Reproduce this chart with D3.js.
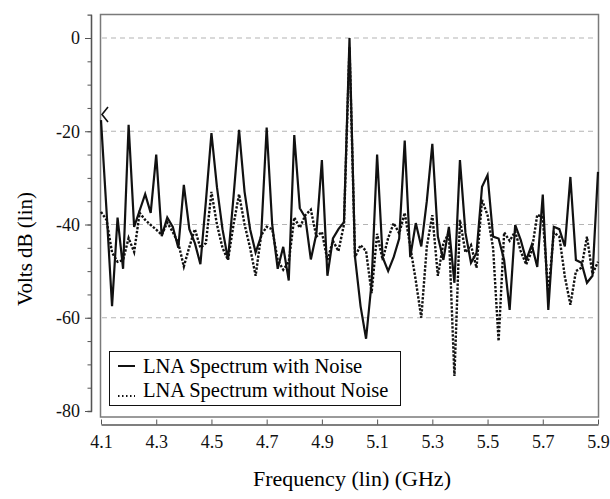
<!DOCTYPE html>
<html>
<head>
<meta charset="utf-8">
<script src="https://cdn.jsdelivr.net/npm/d3@7"></script>
<style>
    body { margin: 0; background: #fff; }
    svg, svg text { font-family: "Liberation Serif", "Times New Roman", serif; }
    .grid line { stroke: #b4b4b4; stroke-dasharray: 5,4; stroke-width: 1.2; }
    .axis path, .axis line { stroke: #555; }
    .axis text { fill: #111; }
</style>
</head>
<body>
<div id="chart"></div>
<script>

// frequency grid (GHz)
var freqGHz = [4.10, 4.12, 4.14, 4.16, 4.18, 4.20, 4.22, 4.24, 4.26, 4.28,
    4.30, 4.32, 4.34, 4.36, 4.38, 4.40, 4.42, 4.44, 4.46, 4.48,
    4.50, 4.52, 4.54, 4.56, 4.58, 4.60, 4.62, 4.64, 4.66, 4.68,
    4.70, 4.72, 4.74, 4.76, 4.78, 4.80, 4.82, 4.84, 4.86, 4.88,
    4.90, 4.92, 4.94, 4.96, 4.98, 5.00, 5.02, 5.04, 5.06, 5.08,
    5.10, 5.12, 5.14, 5.16, 5.18, 5.20, 5.22, 5.24, 5.26, 5.28,
    5.30, 5.32, 5.34, 5.36, 5.38, 5.40, 5.42, 5.44, 5.46, 5.48,
    5.50, 5.52, 5.54, 5.56, 5.58, 5.60, 5.62, 5.64, 5.66, 5.68,
    5.70, 5.72, 5.74, 5.76, 5.78, 5.80, 5.82, 5.84, 5.86, 5.88, 5.90];

// Volts dB, solid line
var withNoise = [-17.6, -37, -57.5, -38.5, -49.5, -18.6, -40.5, -37, -33.5, -37.5,
    -25, -42.5, -38.5, -40.5, -45, -31.5, -41, -44, -48.5, -35,
    -20.4, -32, -41, -47.5, -34, -19.7, -33, -41, -46, -42.5,
    -19.2, -40, -49.5, -44.8, -52, -20.8, -36.5, -38.5, -47.5, -42,
    -26.2, -51, -43, -41, -39.5, 0, -47, -57.5, -64.5, -52.5,
    -25, -47, -50, -47, -43, -22, -47, -39.7, -44.7, -35,
    -22.7, -42.6, -47.6, -40.5, -52.5, -26.2, -41.8, -48.2, -46.1, -31.9,
    -29.4, -42.6, -43, -47.6, -58.3, -40.1, -43.3, -47.6, -44.4, -49.1,
    -33.6, -58.3, -40.5, -41, -44.7, -29.8, -47.6, -48.2, -52.5, -51, -28.7];

// Volts dB, dotted line
var withoutNoise = [-37.3, -39, -46, -48, -47.6, -42.9, -45.9, -37.5, -39, -40.1,
    -41.1, -42.2, -39.6, -41.6, -44, -49, -44.8, -41, -45, -44,
    -33, -40, -45, -47.6, -40, -33.5, -40, -45, -51, -42.3,
    -40.5, -41, -47.6, -49.7, -48, -38.5, -40.7, -38, -36.8, -42.6,
    -41.6, -47.6, -43.5, -45.7, -40, -2, -47, -44.4, -45.7, -54.7,
    -42, -47.6, -42.9, -39.7, -41.9, -37.5, -44.7, -52, -60, -44.7,
    -38, -51, -44, -41.8, -72.5, -39, -46, -44.4, -49.3, -34.7,
    -38, -45, -65, -41.7, -43.5, -41.5, -45.7, -48.6, -45.7, -37.9,
    -38.5, -54.7, -41.7, -42.6, -51.2, -57.2, -50, -49.3, -42.6, -50.6, -48];

var seriesNames = ["LNA Spectrum with Noise", "LNA Spectrum without Noise"];
var xTicks = [4.1, 4.3, 4.5, 4.7, 4.9, 5.1, 5.3, 5.5, 5.7, 5.9];
var yTicks = [0, -20, -40, -60, -80];
var yMinorTicks = [0, -5, -10, -15, -20, -25, -30, -35, -40, -45, -50, -55, -60, -65, -70, -75, -80];
var gridValues = [0, -20, -40, -60];

var serifFont = "'Liberation Serif', 'Times New Roman', serif";


SpectrumVis = function(_parentElement){
    this.parentElement = _parentElement;
    this.initVis();
}

SpectrumVis.prototype.initVis = function(){
    var vis = this;

    vis.width = 610;
    vis.height = 499;

    vis.svg = d3.select("#" + vis.parentElement).append("svg")
        .attr("width", vis.width)
        .attr("height", vis.height)
        .attr("font-family", serifFont);

    // scales
    vis.x = d3.scaleLinear().domain([4.1, 5.9]).range([101, 598]);
    vis.y = d3.scaleLinear().domain([-80, 5]).range([411, 14.7]);

    // plot frame
    vis.svg.append("rect")
        .attr("x", 100.5).attr("y", 14.5)
        .attr("width", 498).attr("height", 402.5)
        .attr("fill", "none")
        .attr("stroke", "#7a7a7a")
        .attr("stroke-width", 1.5);

    // dashed grid
    vis.svg.append("g")
        .attr("class", "grid")
        .selectAll("line")
        .data(gridValues)
        .enter().append("line")
        .attr("x1", 102).attr("x2", 597)
        .attr("y1", function(d) { return vis.y(d); })
        .attr("y2", function(d) { return vis.y(d); });

    // y axis (minor + major ticks)
    vis.svg.append("g")
        .attr("class", "axis")
        .attr("transform", "translate(91,0)")
        .call(d3.axisLeft(vis.y).tickValues(yMinorTicks).tickSize(3.5).tickFormat(""));

    vis.yAxis = d3.axisLeft(vis.y)
        .tickValues(yTicks)
        .tickSize(6)
        .tickSizeOuter(0)
        .tickPadding(5)
        .tickFormat(function(d) { return String(d); });   // plain hyphen like the original

    vis.svg.append("g")
        .attr("class", "y-axis axis")
        .attr("transform", "translate(91,0)")
        .call(vis.yAxis);

    // x axis, ticks point up into the chart
    vis.xAxis = d3.axisBottom(vis.x)
        .tickValues(xTicks)
        .tickSizeInner(-5)
        .tickSizeOuter(0)
        .tickPadding(11)
        .tickFormat(d3.format(".1f"));

    vis.svg.append("g")
        .attr("class", "x-axis axis")
        .attr("transform", "translate(0,424.5)")
        .call(vis.xAxis);

    vis.svg.selectAll(".axis").attr("font-family", serifFont).attr("font-size", 18);
    vis.svg.selectAll(".axis path").attr("stroke-width", 1.3);

    // axis titles
    vis.svg.append("text")
        .attr("transform", "translate(32,249) rotate(-90)")
        .attr("font-family", serifFont)
        .style("text-anchor", "middle")
        .style("font-size", "21px")
        .text("Volts dB (lin)");

    vis.svg.append("text")
        .attr("x", 352)
        .attr("y", 486)
        .attr("font-family", serifFont)
        .style("text-anchor", "middle")
        .style("font-size", "22px")
        .text("Frequency (lin) (GHz)");

    vis.wrangleData();
}

SpectrumVis.prototype.wrangleData = function(){
    var vis = this;

    vis.displayData = [
        { name: seriesNames[0], dash: null, values: freqGHz.map(function(f, i) { return { f: f, v: withNoise[i] }; }) },
        { name: seriesNames[1], dash: "2.4,1.6", values: freqGHz.map(function(f, i) { return { f: f, v: withoutNoise[i] }; }) }
    ];

    vis.updateVis();
}

SpectrumVis.prototype.updateVis = function(){
    var vis = this;

    vis.valueline = d3.line()
        .x(function(d) { return vis.x(d.f); })
        .y(function(d) { return vis.y(d.v); });

    // draw the dotted one first so the solid sits on top
    vis.svg.selectAll("path.line")
        .data(vis.displayData.slice().reverse())
        .enter().append("path")
        .attr("class", "line")
        .attr("fill", "none")
        .attr("stroke", "#111")
        .attr("stroke-width", function(d) { return d.dash ? 2.4 : 2.2; })
        .attr("stroke-dasharray", function(d) { return d.dash; })
        .attr("stroke-linejoin", "miter")
        .attr("d", function(d) { return vis.valueline(d.values); });

    // marker at the left edge
    vis.svg.append("path")
        .attr("d", "M108,107 L102,114.5 L108,122")
        .attr("fill", "none")
        .attr("stroke", "#111")
        .attr("stroke-width", 1.6);

    // legend
    var legend = vis.svg.append("g").attr("class", "legend");

    legend.append("rect")
        .attr("x", 109.5).attr("y", 351.5)
        .attr("width", 291).attr("height", 54)
        .attr("fill", "#fff")
        .attr("stroke", "#111")
        .attr("stroke-width", 1);

    var item = legend.selectAll("g.item")
        .data(vis.displayData)
        .enter().append("g")
        .attr("class", "item")
        .attr("transform", function(d, i) { return "translate(0," + (i * 24) + ")"; });

    item.append("line")
        .attr("x1", 118).attr("x2", 135)
        .attr("y1", function(d) { return d.dash ? 372 : 366; })
        .attr("y2", function(d) { return d.dash ? 372 : 366; })
        .attr("stroke", "#111")
        .attr("stroke-width", 2)
        .attr("stroke-dasharray", function(d) { return d.dash ? "1.5,2.5" : null; });

    item.append("text")
        .attr("x", 143)
        .attr("y", 373)
        .attr("font-family", serifFont)
        .style("font-size", "20.5px")
        .text(function(d) { return d.name; });
}

new SpectrumVis("chart");

</script>
</body>
</html>
